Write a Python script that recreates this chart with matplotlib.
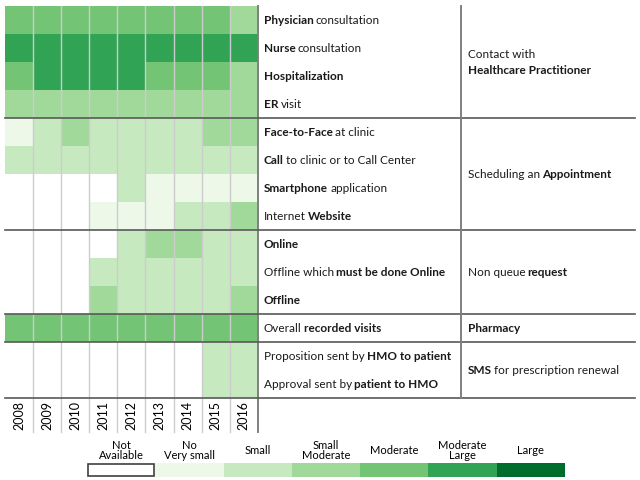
import matplotlib
matplotlib.use("Agg")
import matplotlib.pyplot as plt
import numpy as np
from matplotlib.colors import ListedColormap
from matplotlib.patches import Rectangle

plt.rcParams["font.family"] = ["Lato", "DejaVu Sans"]

years = [2008, 2009, 2010, 2011, 2012, 2013, 2014, 2015, 2016]

# 0 = not available ... 6 = large
level_colors = ["#ffffff", "#edf8e9", "#c7e9c0", "#a1d99b",
                "#74c476", "#31a354", "#006d2c"]
level_names = ["Not\nAvailable", "No\nVery small", "Small", "Small\nModerate",
               "Moderate", "Moderate\nLarge", "Large"]

physician = [4, 4, 4, 4, 4, 4, 4, 4, 3]
nurse = [5, 5, 5, 5, 5, 5, 5, 5, 5]
hospitalization = [4, 5, 5, 5, 5, 4, 4, 4, 3]
er_visit = [3, 3, 3, 3, 3, 3, 3, 3, 3]
face_to_face = [1, 2, 3, 2, 2, 2, 2, 3, 3]
call_center = [2, 2, 2, 2, 2, 2, 2, 2, 2]
smartphone = [0, 0, 0, 0, 2, 1, 1, 1, 1]
website = [0, 0, 0, 1, 1, 1, 2, 2, 3]
online = [0, 0, 0, 0, 2, 3, 3, 2, 2]
offline_online = [0, 0, 0, 2, 2, 2, 2, 2, 2]
offline = [0, 0, 0, 3, 2, 2, 2, 2, 3]
pharmacy_visits = [4, 4, 4, 4, 4, 4, 4, 4, 4]
sms_proposition = [0, 0, 0, 0, 0, 0, 0, 2, 2]
sms_approval = [0, 0, 0, 0, 0, 0, 0, 2, 2]

row_values = [physician, nurse, hospitalization, er_visit,
              face_to_face, call_center, smartphone, website,
              online, offline_online, offline,
              pharmacy_visits,
              sms_proposition, sms_approval]

# (text, bold) pieces for each row label; pieces are joined by one space
row_labels = [
    [("Physician", True), ("consultation", False)],
    [("Nurse", True), ("consultation", False)],
    [("Hospitalization", True)],
    [("ER", True), ("visit", False)],
    [("Face-to-Face", True), ("at clinic", False)],
    [("Call", True), ("to clinic or to Call Center", False)],
    [("Smartphone", True), ("application", False)],
    [("Internet", False), ("Website", True)],
    [("Online", True)],
    [("Offline which", False), ("must be done Online", True)],
    [("Offline", True)],
    [("Overall", False), ("recorded visits", True)],
    [("Proposition sent by", False), ("HMO to patient", True)],
    [("Approval sent by", False), ("patient to HMO", True)],
]

group_sizes = [4, 4, 3, 1, 2]
group_labels = [
    [[("Contact with", False)], [("Healthcare Practitioner", True)]],
    [[("Scheduling an", False), ("Appointment", True)]],
    [[("Non queue", False), ("request", True)]],
    [[("Pharmacy", True)]],
    [[("SMS", True), ("for prescription renewal", False)]],
]

W, H = 640, 480
left, top = 5, 6
cell_w, cell_h = 28.1, 28
label_x, group_x = 264, 468
line_right, sep_x = 635, 461
year_bottom = 432
fs = 8.5

cmap = ListedColormap(level_colors)
fig = plt.figure(figsize=(W / 100, H / 100), dpi=100)

n_rows, n_cols = len(row_values), len(years)
grid_h = n_rows * cell_h
ax = fig.add_axes([left / W, 1 - (top + grid_h) / H, n_cols * cell_w / W, grid_h / H])
ax.pcolormesh(np.array(row_values), cmap=cmap, vmin=-0.5, vmax=6.5)
ax.set_xlim(0, n_cols)
ax.set_ylim(n_rows, 0)
for s in ax.spines.values():
    s.set_visible(False)
ax.set_yticks([])
ax.set_xticks(np.arange(n_cols) + 0.5)
ax.set_xticklabels([str(y) for y in years], rotation=90, fontsize=9)
ax.tick_params(axis="x", length=0, pad=2)
ext = (year_bottom - top - grid_h) / grid_h
for c in range(1, n_cols):
    ax.axvline(c, ymin=-ext, ymax=1, color="#cccccc", lw=1, clip_on=False)
ax.axvline(n_cols, ymin=-ext, ymax=1, color="#808080", lw=1.4, clip_on=False)

ov = fig.add_axes([0, 0, 1, 1])
ov.set_xlim(0, W)
ov.set_ylim(H, 0)
ov.axis("off")
ov.patch.set_alpha(0)


def rich_text(x, y, pieces):
    prev = None
    for text, bold in pieces:
        w = "bold" if bold else "normal"
        if prev is None:
            prev = ov.text(x, y, text, fontsize=fs, fontweight=w,
                           ha="left", va="center", color="#1a1a1a")
        else:
            # gap of about one space width
            prev = ov.annotate(text, xy=(1, 0), xycoords=prev,
                               xytext=(1.5, 0), textcoords="offset points",
                               fontsize=fs, fontweight=w, ha="left",
                               va="bottom", color="#1a1a1a")


for i, pieces in enumerate(row_labels):
    rich_text(label_x, top + (i + 0.5) * cell_h, pieces)

bounds = np.cumsum([0] + group_sizes)
for g, lines in enumerate(group_labels):
    y0 = top + bounds[g] * cell_h
    y1 = top + bounds[g + 1] * cell_h
    yc = (y0 + y1) / 2
    n = len(lines)
    for k, pieces in enumerate(lines):
        rich_text(group_x, yc + (k - (n - 1) / 2) * 16, pieces)
    ov.plot([left, line_right], [y1, y1], color="#595959", lw=1.2)
ov.plot([sep_x, sep_x], [top, top + grid_h], color="#808080", lw=1.4)

# legend strip
leg_left, leg_top, leg_w, leg_h = 87, 463, 478, 14
lg = fig.add_axes([leg_left / W, 1 - (leg_top + leg_h) / H, leg_w / W, leg_h / H])
lg.pcolormesh(np.arange(len(level_colors))[None, :], cmap=cmap, vmin=-0.5, vmax=6.5)
lg.add_patch(Rectangle((0.02, 0.05), 0.96, 0.9, fill=False, ec="#404040", lw=1.2))
lg.set_xlim(0, len(level_colors))
lg.set_ylim(0, 1)
for s in lg.spines.values():
    s.set_visible(False)
lg.set_yticks([])
lg.set_xticks(np.arange(len(level_colors)) + 0.5)
lg.set_xticklabels(level_names, fontsize=8, linespacing=0.95, va="center")
lg.tick_params(axis="x", top=True, bottom=False, labeltop=True, labelbottom=False,
               length=0, pad=9)

fig.savefig("out.png", dpi=100)
